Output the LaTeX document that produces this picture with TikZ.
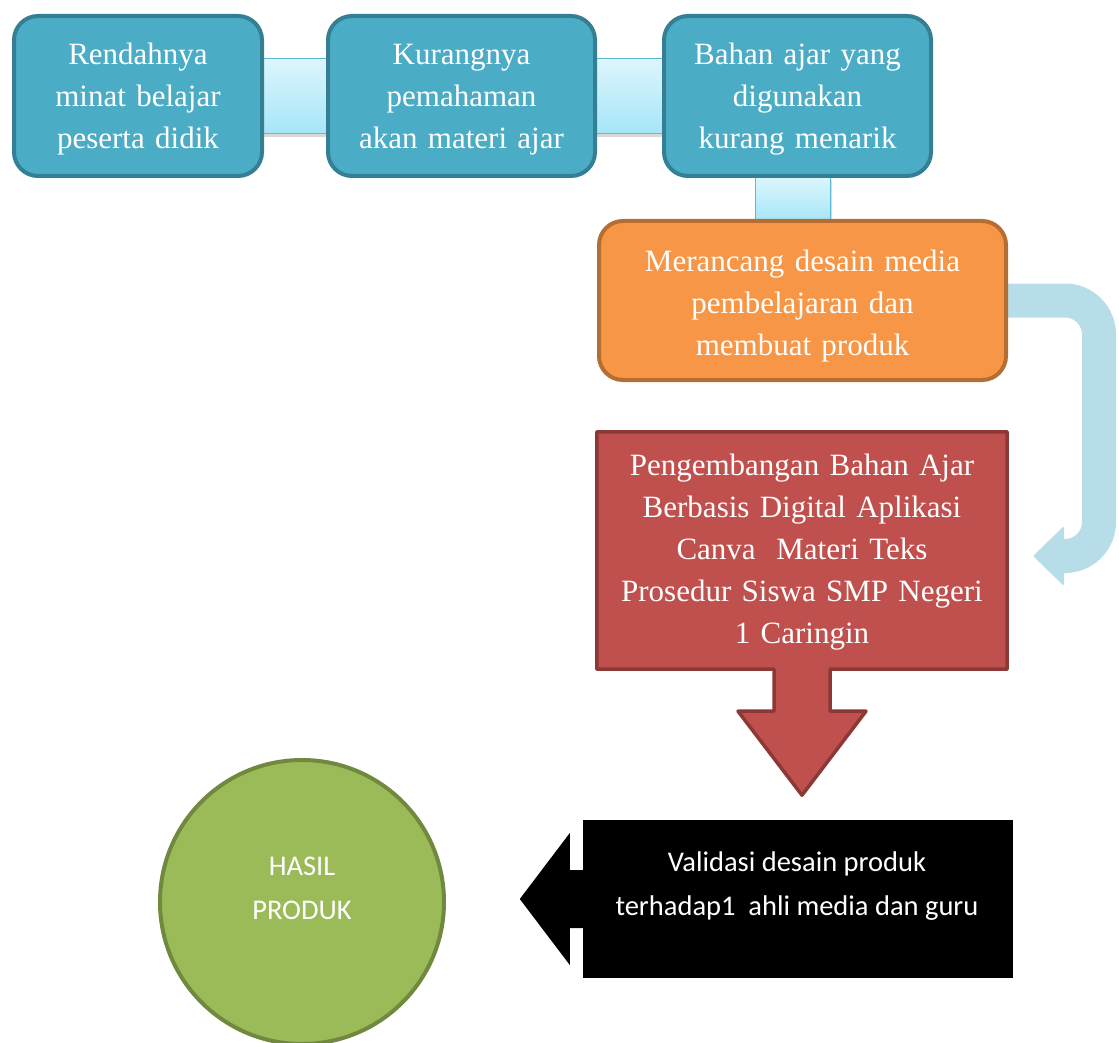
\documentclass[tikz,border=0pt]{standalone}
\usepackage{fontspec}
\setmainfont{Liberation Serif}
\newfontfamily\calfont{Carlito}
\usetikzlibrary{calc,shadows,backgrounds}
\definecolor{tealfill}{HTML}{4BACC6}
\definecolor{tealdark}{HTML}{357F94}
\definecolor{conntop}{HTML}{DDF6FD}
\definecolor{connbot}{HTML}{A6E6F8}
\definecolor{connline}{HTML}{5DBAD4}
\definecolor{orfill}{HTML}{F79646}
\definecolor{ordark}{HTML}{B66D31}
\definecolor{redfill}{HTML}{C0504D}
\definecolor{reddark}{HTML}{8C3836}
\definecolor{arrowblue}{HTML}{B7DEE8}
\definecolor{grfill}{HTML}{9BBB59}
\definecolor{grdark}{HTML}{71893F}
\newcommand\fntA{\fontsize{31}{42}\selectfont}
\newcommand\fntB{\calfont\fontsize{28.5}{44}\selectfont}
\newcommand\upstrut[1]{\rule{0pt}{#1}}
\begin{document}
\begin{tikzpicture}[x=1pt,y=-1pt,
  topbox/.style={draw=tealdark,fill=tealfill,line width=4pt,rounded corners=24pt,
    minimum width=248pt,minimum height=160pt,text=white,align=center,font=\fntA,
    inner sep=0pt,text width=240pt},
  midbox/.style={draw=tealdark,fill=tealfill,line width=4pt,rounded corners=24pt,
    minimum width=267pt,minimum height=160pt,text=white,align=center,font=\fntA,
    inner sep=0pt,text width=260pt},
  connbar/.style={top color=conntop,bottom color=connbot,draw=connline,line width=1.5pt,
    drop shadow={opacity=0.3,shadow xshift=1pt,shadow yshift=-4pt}},
  redtext/.style={text=white,align=center,font=\fntA,text width=400pt,inner sep=0pt,
    minimum width=410pt,minimum height=237pt}
]
\useasboundingbox (0,0) rectangle (1119,1043);

% top row
\node[topbox] (b1) at (138,96) {\upstrut{27pt}Rendahnya\\minat belajar\\peserta didik};
\node[midbox] (b2) at (461.5,96) {\upstrut{27pt}Kurangnya\\pemahaman\\akan materi ajar};
\node[midbox] (b3) at (797.5,96) {\upstrut{27pt}Bahan ajar yang\\digunakan\\kurang menarik};

% orange box
\node[draw=ordark,fill=orfill,line width=4pt,rounded corners=24pt,minimum width=407pt,
  minimum height=159pt,text=white,align=center,font=\fntA,inner sep=0pt,text width=395pt]
  (orange) at (802.5,300.5) {\upstrut{33pt}Merancang desain media\\pembelajaran dan\\membuat produk};

% red block arrow
\node[redtext] (red) at (802,550.5) {\upstrut{25pt}Pengembangan Bahan Ajar\\Berbasis Digital Aplikasi\\Canva\ \ Materi Teks\\Prosedur Siswa SMP Negeri\\1 Caringin};

% black left arrow
\node[fill=black,minimum width=430pt,minimum height=158pt,inner sep=0pt] (black) at (798,899) {};
\node[text=white,align=center,font=\fntB,inner sep=0pt] (valid) at (797,886)
  {Validasi desain produk\\terhadap1\ \ ahli media dan guru};

% result circle
\node[circle,draw=grdark,fill=grfill,line width=4pt,minimum size=284pt,inner sep=0pt] (hasil) at (302,902) {};
\node[text=white,align=center,font=\fntB,inner sep=0pt] (hasiltext) at (302,888) {HASIL\\PRODUK};

\coordinate (tip) at (1033,556);

\begin{scope}[on background layer]
  % connectors between the top boxes
  \path[connbar] ($(b1.east)+(-2,-37.5)$) rectangle ($(b2.west)+(2,37.5)$);
  \path[connbar] ($(b2.east)+(-2,-37.5)$) rectangle ($(b3.west)+(2,37.5)$);
  \path[connbar] ($(b3.south)+(-42,-2)$) rectangle ($(orange.north)+(28,2)$);
  % red shape
  \draw[fill=redfill,draw=reddark,line width=3.5pt,line join=round]
    (red.north west) -- (red.north east) -- (red.south east)
    -- ($(red.south)+(28,0)$) -- ($(red.south)+(28,42)$) -- ($(red.south)+(64,42)$)
    -- ($(red.south)+(0,126)$) -- ($(red.south)+(-64,42)$) -- ($(red.south)+(-28,42)$)
    -- ($(red.south)+(-28,0)$) -- (red.south west) -- cycle;
  % black arrow head
  \fill[black] ($(black.west)+(1,-29)$) -- ($(black.west)+(-13,-29)$) -- ($(black.west)+(-13,-66)$)
    -- ($(black.west)+(-63,0)$) -- ($(black.west)+(-13,66)$) -- ($(black.west)+(-13,29)$)
    -- ($(black.west)+(1,29)$) -- cycle;
  % curved light-blue arrow
  \draw[arrowblue,line width=34pt,rounded corners=34pt]
    ($(orange.east)+(-2,0)$) -- (1099,300.5) -- (1099,556) -- ($(tip)+(30,0)$);
  \fill[arrowblue,rounded corners=2pt] ($(tip)+(31,-30)$) -- (tip) -- ($(tip)+(31,30)$) -- cycle;
\end{scope}
\end{tikzpicture}
\end{document}
